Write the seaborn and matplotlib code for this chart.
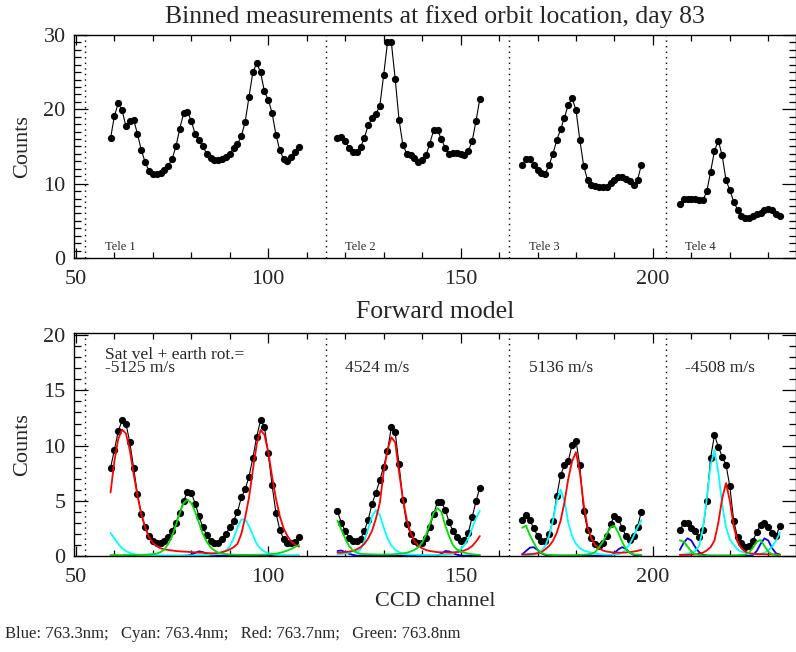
import matplotlib
matplotlib.use("Agg")
import matplotlib.pyplot as plt
from matplotlib.ticker import MultipleLocator
import seaborn as sns

sns.set_style("ticks")
plt.rcParams['font.family'] = ['Liberation Serif', 'DejaVu Serif']

# CCD channels of the four telescopes
ch1 = list(range(59, 109))
ch2 = list(range(118, 156))
ch3 = list(range(166, 198))
ch4 = list(range(207, 234))
channels = [ch1, ch2, ch3, ch4]

# tele boundaries (dotted lines)
tele_edges = [52.3, 115.0, 162.6, 203.4]
tele_names = ["Tele 1", "Tele 2", "Tele 3", "Tele 4"]
tele_label_x = [57.5, 119.9, 167.8, 208.3]
velocities = ["Sat vel + earth rot.=\n-5125 m/s", "4524 m/s", "5136 m/s", "-4508 m/s"]

# ---- binned measurements (top)
meas1 = [16.1, 19.1, 20.8, 19.9, 17.7, 18.4, 18.6, 16.7, 14.5, 12.9,
         11.7, 11.3, 11.35, 11.5, 11.8, 12.4, 13.3, 15.0, 17.4, 19.5,
         19.7, 18.4, 16.7, 15.9, 15.0, 14.05, 13.4, 13.15, 13.15, 13.3,
         13.55, 14.0, 14.8, 15.3, 16.4, 18.3, 21.7, 25.0, 26.2, 25.0,
         22.4, 21.3, 19.5, 16.6, 14.5, 13.3, 13.0, 13.55, 14.3, 14.9]
meas2 = [16.1, 16.3, 15.7, 14.8, 14.3, 14.3, 14.9, 16.2, 17.9, 18.8,
         19.4, 20.45, 24.6, 29.0, 29.0, 24.1, 18.6, 15.2, 14.05, 13.9,
         13.5, 12.9, 13.15, 13.8, 15.4, 17.2, 17.2, 16.0, 14.8, 14.0,
         14.15, 14.15, 14.05, 13.9, 14.4, 15.7, 18.4, 21.4]
meas3 = [12.5, 13.3, 13.3, 12.5, 11.8, 11.4, 11.35, 12.5, 14.0, 15.85,
         17.3, 18.9, 20.6, 21.5, 19.9, 15.9, 12.4, 10.5, 9.8, 9.7,
         9.6, 9.6, 9.55, 10.1, 10.5, 10.9, 10.85, 10.6, 10.35, 9.8,
         10.5, 12.5]
meas4 = [7.3, 7.9, 7.9, 7.9, 8.0, 7.75, 7.75, 8.95, 11.6, 14.4,
         15.8, 13.8, 10.5, 9.1, 7.6, 6.5, 5.7, 5.4, 5.35, 5.7,
         5.9, 6.1, 6.4, 6.6, 6.4, 5.95, 5.6]
measured = [meas1, meas2, meas3, meas4]

# ---- forward model (bottom), black points
fwd1 = [8.0, 9.6, 11.3, 12.3, 12.0, 10.3, 8.0, 5.6, 3.8, 2.6,
        1.8, 1.36, 1.2, 1.2, 1.36, 1.7, 2.3, 3.0, 3.9, 5.0,
        5.8, 5.7, 4.75, 3.6, 2.6, 1.9, 1.4, 1.2, 1.2, 1.5,
        2.0, 2.6, 3.2, 4.0, 5.3, 6.05, 7.2, 8.9, 10.8, 12.3,
        11.7, 9.3, 6.4, 3.9, 2.4, 1.5, 1.2, 1.2, 1.3, 1.7]
fwd2 = [4.05, 3.0, 2.3, 1.67, 1.38, 1.38, 1.55, 2.3, 3.3, 4.75,
        5.75, 6.85, 8.1, 9.5, 11.7, 11.2, 8.3, 5.1, 2.9, 2.0,
        1.35, 1.18, 1.18, 1.67, 2.6, 3.8, 4.9, 4.9, 4.2, 3.1,
        2.27, 1.76, 1.36, 1.42, 2.12, 3.5, 4.94, 6.2]
fwd3 = [3.25, 3.68, 3.27, 2.5, 1.85, 1.4, 1.36, 2.0, 3.2, 5.4,
        7.36, 8.2, 8.6, 10.1, 10.45, 8.2, 4.1, 2.4, 1.6, 1.06,
        0.9, 1.2, 1.8, 2.9, 3.64, 3.33, 2.58, 1.8, 1.45, 1.8,
        2.64, 4.03]
fwd4 = [2.33, 2.97, 3.0, 2.55, 2.25, 1.75, 2.4, 5.0, 8.9, 10.95,
        9.9, 9.0, 8.27, 6.3, 3.2, 1.7, 1.2, 0.8, 0.9, 1.36,
        2.2, 2.8, 3.0, 2.64, 2.12, 1.8, 2.7]
forward = [fwd1, fwd2, fwd3, fwd4]

# ---- line components
blue1 = [0.02] * 20 + [0.05, 0.12, 0.28, 0.42, 0.35, 0.2, 0.08, 0.04] + [0.03] * 22
cyan1 = [2.1, 1.6, 1.1, 0.7, 0.45, 0.28, 0.18, 0.12, 0.08, 0.06,
         0.05, 0.05, 0.04, 0.04, 0.04, 0.04, 0.04, 0.04, 0.04, 0.05,
         0.05, 0.05, 0.06, 0.07, 0.08, 0.1, 0.12, 0.15, 0.2, 0.3,
         0.5, 0.85, 1.6, 2.6, 3.3, 3.3, 2.7, 1.9, 1.1, 0.65,
         0.4, 0.25, 0.15, 0.1, 0.08, 0.06, 0.05, 0.05, 0.05, 0.05]
red1 = [5.75, 8.6, 10.6, 11.45, 11.1, 9.6, 7.45, 5.45, 3.8, 2.6,
        1.7, 1.2, 0.9, 0.7, 0.6, 0.55, 0.5, 0.45, 0.42, 0.4,
        0.38, 0.35, 0.33, 0.3, 0.3, 0.28, 0.25, 0.25, 0.28, 0.35,
        0.45, 0.6, 0.8, 1.1, 2.0, 3.5, 5.3, 7.8, 10.1, 11.4,
        11.0, 9.4, 7.2, 5.2, 3.6, 2.5, 1.8, 1.3, 1.0, 0.85]
green1 = [0.08, 0.08, 0.08, 0.08, 0.09, 0.09, 0.1, 0.1, 0.11, 0.12, 0.14, 0.17,
          0.22, 0.35, 0.6, 1.1, 1.8, 2.8, 3.9, 4.8, 5.1,
          4.8, 4.0, 3.0, 2.0, 1.3, 0.8, 0.5, 0.3, 0.22, 0.17,
          0.14, 0.12, 0.11, 0.1, 0.1, 0.1, 0.1, 0.11, 0.12, 0.13,
          0.15, 0.18, 0.22, 0.28, 0.38, 0.5, 0.65, 0.82, 1.0]

blue2 = [0.45, 0.5, 0.35, 0.2, 0.1] + [0.03] * 22 + [0.2, 0.45, 0.42, 0.25, 0.12, 0.05] + [0.03] * 5
cyan2 = [0.15, 0.18, 0.22, 0.3, 0.45, 0.35, 0.6, 1.4, 2.5, 3.6,
         4.15, 3.7, 2.6, 1.6, 0.95, 0.55, 0.35, 0.22, 0.16, 0.13,
         0.12, 0.1, 0.09, 0.08, 0.08, 0.08, 0.09, 0.1, 0.12, 0.15,
         0.22, 0.4, 0.6, 1.0, 1.6, 2.5, 3.4, 4.1]
red2 = [0.3, 0.3, 0.35, 0.4, 0.45, 0.6, 0.8, 1.1, 1.6, 2.3,
        3.4, 4.8, 7.6, 9.6, 10.75, 10.3, 7.6, 5.2, 3.3, 2.1,
        1.35, 0.95, 0.7, 0.55, 0.45, 0.4, 0.35, 0.33, 0.32, 0.32,
        0.33, 0.35, 0.4, 0.5, 0.65, 0.9, 1.3, 1.8]
green2 = [3.2, 2.4, 1.6, 0.9, 0.5, 0.3, 0.2, 0.18, 0.16, 0.15,
          0.14, 0.13, 0.13, 0.14, 0.15, 0.17, 0.2, 0.24, 0.3, 0.4,
          0.55, 0.8, 1.2, 1.9, 2.9, 3.9, 4.33, 4.0, 2.8, 1.8,
          1.0, 0.6, 0.4, 0.3, 0.22, 0.16, 0.12, 0.1]

blue3 = [0.15, 0.45, 0.75, 0.8, 0.55, 0.25, 0.1] + [0.03] * 17 + [0.25, 0.6, 0.8, 0.65, 0.3, 0.1, 0.04, 0.03]
cyan3 = [0.05, 0.05, 0.08, 0.12, 0.25, 0.45, 0.9, 1.8, 3.2, 5.0,
         6.0, 5.0, 3.0, 1.8, 1.1, 0.7, 0.5, 0.4, 0.3, 0.22,
         0.17, 0.14, 0.12, 0.12, 0.13, 0.16, 0.3, 0.6, 1.1, 1.8,
         2.6, 3.25]
red3 = [0.15, 0.15, 0.18, 0.2, 0.25, 0.35, 0.6, 0.9, 1.35, 2.1,
        3.2, 4.85, 7.0, 8.6, 9.4, 7.6, 4.7, 2.6, 1.6, 1.0,
        0.7, 0.5, 0.4, 0.35, 0.3, 0.3, 0.3, 0.32, 0.35, 0.4,
        0.47, 0.55]
green3 = [2.55, 2.75, 1.9, 1.2, 0.6, 0.3, 0.15, 0.1, 0.08, 0.07,
          0.06, 0.06, 0.06, 0.07, 0.08, 0.1, 0.12, 0.15, 0.2, 0.35,
          0.8, 1.3, 2.0, 2.6, 2.75, 2.1, 1.3, 0.6, 0.3, 0.15,
          0.12, 0.1]

blue4 = [0.55, 1.2, 1.6, 1.4, 0.8, 0.35, 0.12, 0.05, 0.03, 0.03] + [0.03] * 9 + [0.1] + \
        [0.45, 1.1, 1.6, 1.4, 0.7, 0.25, 0.1]
cyan4 = [0.1, 0.15, 0.2, 0.3, 0.45, 0.9, 2.5, 5.2, 8.2, 9.6,
         7.6, 4.7, 2.6, 1.5, 1.0, 0.6, 0.4, 0.3, 0.22, 0.18,
         0.17, 0.2, 0.3, 0.5, 0.85, 1.4, 2.1]
red4 = [0.1, 0.1, 0.1, 0.12, 0.15, 0.2, 0.3, 0.5, 0.8, 1.4,
        3.0, 5.2, 6.6, 5.0, 2.7, 1.3, 0.7, 0.4, 0.25, 0.2,
        0.18, 0.17, 0.16, 0.15, 0.15, 0.15, 0.15]
green4 = [1.42, 1.3, 0.85, 0.4, 0.15, 0.1, 0.06, 0.05, 0.04, 0.04,
          0.04, 0.04, 0.04, 0.04, 0.05, 0.06, 0.08, 0.12, 0.3, 0.75,
          1.3, 1.45, 0.9, 0.4, 0.15, 0.08, 0.05]

components = [
    {"#0000FF": blue1, "#00FFFF": cyan1, "#FF0000": red1, "#00E000": green1},
    {"#0000FF": blue2, "#00FFFF": cyan2, "#FF0000": red2, "#00E000": green2},
    {"#0000FF": blue3, "#00FFFF": cyan3, "#FF0000": red3, "#00E000": green3},
    {"#0000FF": blue4, "#00FFFF": cyan4, "#FF0000": red4, "#00E000": green4},
]

fig = plt.figure(figsize=(7.96, 6.52), dpi=100)
ax1 = fig.add_axes([74 / 796, 1 - 258 / 652, 722 / 796, 223 / 652])
ax2 = fig.add_axes([74 / 796, 1 - 556 / 652, 722 / 796, 223 / 652])


def style_axis(ax, ymax, ymajor):
    ax.set_xlim(49.5, 237.2)
    ax.set_ylim(0, ymax)
    ax.xaxis.set_major_locator(MultipleLocator(50))
    ax.xaxis.set_minor_locator(MultipleLocator(10))
    ax.yaxis.set_major_locator(MultipleLocator(ymajor))
    ax.yaxis.set_minor_locator(MultipleLocator(1))
    ax.tick_params(which='both', direction='in', top=True, right=True,
                   labelsize=16, width=0.9, color='black')
    ax.tick_params(axis='y', which='major', length=10, pad=6)
    ax.tick_params(axis='y', which='minor', length=5)
    ax.tick_params(axis='x', which='major', length=7, pad=9)
    ax.tick_params(axis='x', which='minor', length=4)
    for s in ax.spines.values():
        s.set_linewidth(1.0)
        s.set_color('black')
    ax.set_ylabel("Counts", fontsize=16, labelpad=8)
    for e in tele_edges:
        ax.axvline(e, color='black', lw=1.0, ls=(0, (1, 3)))


# top panel
style_axis(ax1, 30, 10)
for ch, vals, name, tx in zip(channels, measured, tele_names, tele_label_x):
    sns.lineplot(x=ch, y=vals, ax=ax1, color='black', lw=0.8, marker='o',
                 markersize=5.2, markeredgewidth=0, estimator=None, sort=False)
    ax1.text(tx, 1.5, name, fontsize=9, va='center', ha='left')
ax1.set_xlabel("")

# bottom panel
style_axis(ax2, 20.2, 5)
for ch, vals, comp in zip(channels, forward, components):
    sns.lineplot(x=ch, y=vals, ax=ax2, color='black', lw=0.8, marker='o',
                 markersize=5.2, markeredgewidth=0, estimator=None, sort=False)
    for col, curve in comp.items():
        sns.lineplot(x=ch, y=curve, ax=ax2, color=col, lw=1.3,
                     estimator=None, sort=False)
ax2.set_xlabel("CCD channel", fontsize=16, labelpad=3)
for tx, v in zip(tele_label_x, velocities):
    ax2.text(tx, 16.65, v, fontsize=12.5, va='baseline', ha='left', linespacing=0.8)

fig.text(435 / 796, 1 - 17 / 652, "Binned measurements at fixed orbit location, day 83",
         fontsize=18.5, ha='center', va='center')
fig.text(435 / 796, 1 - 312 / 652, "Forward model", fontsize=18.5, ha='center', va='center')
fig.text(5 / 796, 1 - 634 / 652,
         "Blue: 763.3nm;   Cyan: 763.4nm;   Red: 763.7nm;   Green: 763.8nm",
         fontsize=12, ha='left', va='center')

fig.savefig("out.png", dpi=100)
